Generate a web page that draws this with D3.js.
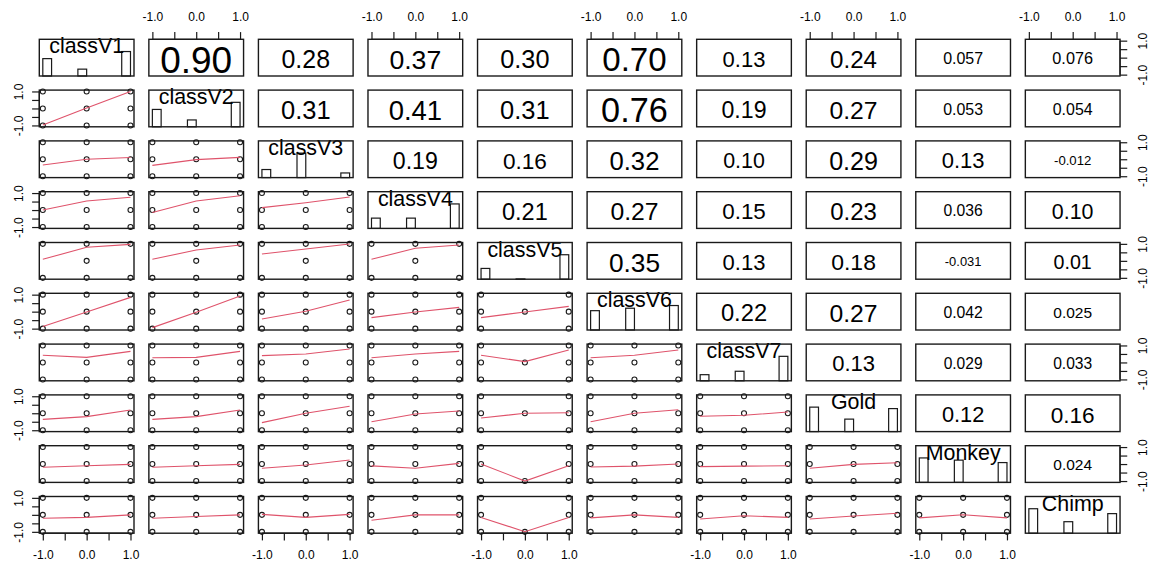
<!DOCTYPE html>
<html><head><meta charset="utf-8">
<script src="https://cdn.jsdelivr.net/npm/d3@7"></script>
<style>body{margin:0;background:#fff}svg{display:block}text{font-family:"Liberation Sans",Arial,sans-serif}</style>
</head><body>
<script>
// ---- data ----
const variables = ["classV1","classV2","classV3","classV4","classV5","classV6","classV7","Gold","Monkey","Chimp"];
const levels = [-1, 0, 1];
const histBins = [[-1, -0.8], [-0.2, 0], [0.8, 1]];
// relative bar heights (count / max count) for each variable
const histHeights = [
  [0.71, 0.28, 1.00],
  [0.71, 0.28, 1.00],
  [0.33, 1.00, 0.19],
  [0.42, 0.42, 1.00],
  [0.44, 0.01, 1.00],
  [0.79, 0.89, 1.00],
  [0.25, 0.39, 1.00],
  [1.00, 0.51, 0.94],
  [1.00, 0.91, 0.81],
  [1.00, 0.47, 0.80]
];
// upper panels: correlation labels, row by row
const corrLabels = [
  ["0.90","0.28","0.37","0.30","0.70","0.13","0.24","0.057","0.076"],
  ["0.31","0.41","0.31","0.76","0.19","0.27","0.053","0.054"],
  ["0.19","0.16","0.32","0.10","0.29","0.13","-0.012"],
  ["0.21","0.27","0.15","0.23","0.036","0.10"],
  ["0.35","0.13","0.18","-0.031","0.01"],
  ["0.22","0.27","0.042","0.025"],
  ["0.13","0.029","0.033"],
  ["0.12","0.16"],
  ["0.024"]
];
// lower panels: lowess fitted y at x = -1, 0, 1 (rows 2..10, columns 1..row-1)
const lowessFits = [
  [[-0.97,0.02,1.00]],
  [[-0.34,0.00,0.10],[-0.36,-0.02,0.11]],
  [[0.00,0.53,0.75],[-0.14,0.53,0.84],[0.14,0.43,0.77]],
  [[0.09,0.80,0.97],[0.09,0.64,0.93],[0.40,0.70,0.99],[0.09,0.74,0.93]],
  [[-0.88,-0.02,0.84],[-0.94,-0.04,0.92],[-0.43,0.02,0.69],[-0.35,-0.02,0.25],[-0.35,-0.02,0.31]],
  [[0.42,0.30,0.65],[0.28,0.30,0.65],[0.40,0.50,0.79],[0.28,0.50,0.65],[0.42,0.05,0.73],[0.28,0.42,0.73]],
  [[-0.36,-0.20,0.19],[-0.36,-0.20,0.19],[-0.55,0.00,0.41],[-0.50,-0.04,0.13],[-0.28,0.00,0.03],[-0.50,0.00,0.21],[-0.18,-0.12,0.07]],
  [[-0.19,-0.10,-0.02],[-0.19,-0.10,-0.02],[-0.25,-0.06,0.24],[-0.11,-0.25,0.04],[0.00,-1.00,-0.10],[-0.17,-0.12,0.00],[-0.15,-0.12,-0.10],[-0.25,-0.02,0.08]],
  [[-0.20,-0.15,0.00],[-0.20,-0.10,0.00],[0.03,-0.15,0.03],[-0.32,0.00,0.00],[-0.15,-0.99,-0.15],[-0.18,0.00,-0.15],[-0.24,-0.05,-0.15],[-0.24,-0.07,0.09],[-0.18,0.01,-0.18]]
];
// scatter points that do not occur: [row, col, x, y]
const absentPoints = [
  [4,0,-1,0],[4,0,1,0],[4,1,-1,0],[4,1,1,0],[4,2,-1,0],[4,2,1,0],[4,3,-1,0],[4,3,1,0],
  [5,4,0,1],[5,4,0,-1],[6,4,0,1],[6,4,0,-1],[7,4,0,1],[7,4,0,-1],
  [8,4,0,1],[8,4,0,0],[9,4,0,1],[9,4,0,0]
];
const tickValues = [-1, -0.5, 0, 0.5, 1];
const xTickLabels = {"-1":"-1.0", "0":"0.0", "1":"1.0"};
const yTickLabels = {"-1":"-1.0", "1":"1.0"};

// ---- layout ----
const W = 1153, H = 564;
const L0 = 39.3, T0 = 39.3, stepX = 109.56, stepY = 50.8, cw = 94.7, ch = 36.7;
const dom = [-1.08, 1.08];
const n = variables.length;
const lineCol = "#DF536B";
const ink = "#1a1a1a";

const svg = d3.select("body").append("svg").attr("width", W).attr("height", H);
svg.append("rect").attr("width", W).attr("height", H).attr("fill", "#fff");

// measuring helper
const meas = svg.append("text").attr("font-size", 100).attr("x", -1000).attr("y", -1000);
function emWidth(t){ meas.text(t); return meas.node().getComputedTextLength()/100; }

const isAbsent = (i,j,x,y) => absentPoints.some(p => p[0]===i && p[1]===j && p[2]===x && p[3]===y);

function styleAxis(a){
  a.selectAll("line").attr("stroke", ink).attr("stroke-width", 1.2);
  a.select(".domain").attr("stroke", ink).attr("stroke-width", 1.2);
  a.selectAll("text").attr("font-size", 12).attr("fill", "#000").attr("font-family", null);
}

for (let i = 0; i < n; i++) {
  for (let j = 0; j < n; j++) {
    const x0 = L0 + j*stepX, y0 = T0 + i*stepY;
    const xs = d3.scaleLinear().domain(dom).range([x0, x0+cw]);
    const ys = d3.scaleLinear().domain(dom).range([y0+ch, y0]);
    const g = svg.append("g");
    if (i === j) {
      const hs = d3.scaleLinear().domain([0, 1.5]).range([y0+ch, y0]);
      g.selectAll("rect.bar").data(histBins).join("rect")
        .attr("x", d => xs(d[0])).attr("width", d => xs(d[1]) - xs(d[0]))
        .attr("y", (d,k) => hs(histHeights[i][k])).attr("height", (d,k) => hs(0) - hs(histHeights[i][k]))
        .attr("fill", "none").attr("stroke", ink).attr("stroke-width", 1.2);
      g.append("text").attr("x", x0 + cw/2).attr("y", y0 + 14)
        .attr("text-anchor", "middle").attr("font-size", 21.4).attr("fill", "#000").text(variables[i]);
    } else if (i > j) {
      const pts = [];
      levels.forEach(xv => levels.forEach(yv => { if (!isAbsent(i,j,xv,yv)) pts.push([xv,yv]); }));
      g.selectAll("circle").data(pts).join("circle")
        .attr("cx", d => xs(d[0])).attr("cy", d => ys(d[1])).attr("r", 2.5)
        .attr("fill", "none").attr("stroke", ink).attr("stroke-width", 1.1);
      const fit = lowessFits[i-1][j];
      const line = d3.line().x((d,k) => xs(levels[k])).y(d => ys(d));
      g.append("path").attr("d", line(fit)).attr("fill", "none").attr("stroke", lineCol).attr("stroke-width", 1.1);
    } else {
      const txt = corrLabels[i][j-i-1];
      const r = +txt;
      const target = 0.4 * (1 + r) * cw;
      const fs = target / emWidth(txt);
      g.append("text").attr("x", x0 + cw/2).attr("y", y0 + ch/2 + 0.41*fs)
        .attr("text-anchor", "middle").attr("font-size", fs).attr("fill", "#000").text(txt);
    }
    g.append("rect").attr("x", x0).attr("y", y0).attr("width", cw).attr("height", ch)
      .attr("fill", "none").attr("stroke", ink).attr("stroke-width", 1.4);

    // axes
    const xfmt = v => xTickLabels[String(v)] || "";
    const yfmt = v => yTickLabels[String(v)] || "";
    if (i === 0 && j % 2 === 1) {
      const a = svg.append("g").attr("transform", `translate(0,${y0})`)
        .call(d3.axisTop(xs).tickValues(tickValues).tickFormat(xfmt).tickSize(7.2).tickSizeOuter(0).tickPadding(11.1));
      a.select(".domain").attr("d", `M${xs(-1)},0H${xs(1)}`);
      styleAxis(a);
    }
    if (i === n-1 && j % 2 === 0) {
      const a = svg.append("g").attr("transform", `translate(0,${y0+ch})`)
        .call(d3.axisBottom(xs).tickValues(tickValues).tickFormat(xfmt).tickSize(7.2).tickSizeOuter(0).tickPadding(10.5));
      a.select(".domain").attr("d", `M${xs(-1)},0H${xs(1)}`);
      styleAxis(a);
    }
    if (j === 0 && i % 2 === 1) {
      const a = svg.append("g").attr("transform", `translate(${x0},0)`)
        .call(d3.axisLeft(ys).tickValues(tickValues).tickFormat(yfmt).tickSize(7.2).tickSizeOuter(0));
      a.select(".domain").attr("d", `M0,${ys(-1)}V${ys(1)}`);
      styleAxis(a);
      a.selectAll("text").attr("x", null).attr("dy", null).attr("text-anchor", "middle")
        .attr("transform", "translate(-16.6,0) rotate(-90)");
    }
    if (j === n-1 && i % 2 === 0) {
      const a = svg.append("g").attr("transform", `translate(${x0+cw},0)`)
        .call(d3.axisRight(ys).tickValues(tickValues).tickFormat(yfmt).tickSize(7.2).tickSizeOuter(0));
      a.select(".domain").attr("d", `M0,${ys(-1)}V${ys(1)}`);
      styleAxis(a);
      a.selectAll("text").attr("x", null).attr("dy", null).attr("text-anchor", "middle")
        .attr("transform", "translate(27.4,0) rotate(-90)");
    }
  }
}
meas.remove();
</script>
</body></html>
